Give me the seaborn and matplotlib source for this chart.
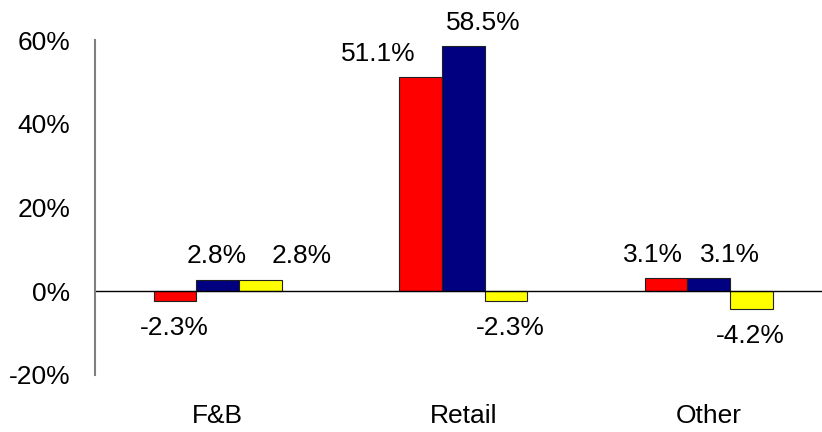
import numpy as np
import pandas as pd
import matplotlib
matplotlib.use("Agg")
import matplotlib.pyplot as plt
import seaborn as sns

# data (%)
segments = ["F&B", "Retail", "Other"]
series_names = ["Series 1", "Series 2", "Series 3"]
series_1 = [-2.3, 51.1, 3.1]
series_2 = [2.8, 58.5, 3.1]
series_3 = [2.8, -2.3, -4.2]
colors = ["#FF0000", "#000080", "#FFFF00"]

# small label nudges (pixels), per series then per segment, like the original
label_dx = [[-1, -42, -13], [-1, 20, 21], [41, 5, -1]]

df = pd.DataFrame({
    "segment": segments * 3,
    "series": np.repeat(series_names, 3),
    "value": series_1 + series_2 + series_3,
})

sns.set_style("white")
plt.rcParams["font.family"] = ["Liberation Sans", "DejaVu Sans"]
plt.rcParams["text.color"] = "black"
plt.rcParams["xtick.color"] = "black"
plt.rcParams["ytick.color"] = "black"

fig = plt.figure(figsize=(8.22, 4.32), dpi=100)
ax = fig.add_axes([95 / 822, 1 - 375 / 432, 736.5 / 822, 335 / 432])

sns.barplot(data=df, x="segment", y="value", hue="series", order=segments,
            hue_order=series_names, palette=colors, saturation=1, width=0.52,
            edgecolor="#202020", linewidth=0.8, legend=False, ax=ax)

ax.axhline(0, color="black", lw=1, zorder=1)
ax.set_xlim(-0.5, 2.5)
ax.set_ylim(-20, 60)
ax.set_yticks([-20, 0, 20, 40, 60])
ax.set_yticklabels([f"{t}%" for t in [-20, 0, 20, 40, 60]])
ax.set_xlabel("")
ax.set_ylabel("")
ax.tick_params(axis="both", length=0, labelsize=19, labelcolor="black")
ax.tick_params(axis="y", pad=18)
ax.tick_params(axis="x", pad=21)

for s in ["top", "right", "bottom"]:
    ax.spines[s].set_visible(False)
ax.spines["left"].set_color("#808080")
ax.spines["left"].set_linewidth(1.5)

for i, cont in enumerate(ax.containers):
    for j, bar in enumerate(cont):
        v = bar.get_height()
        x = bar.get_x() + bar.get_width() / 2
        if v >= 0:
            ax.annotate(f"{v:.1f}%", (x, v), xytext=(label_dx[i][j] * 0.72, 8),
                        textcoords="offset points", ha="center", va="bottom",
                        fontsize=19, color="black")
        else:
            ax.annotate(f"{v:.1f}%", (x, v), xytext=(label_dx[i][j] * 0.72, -11),
                        textcoords="offset points", ha="center", va="top",
                        fontsize=19, color="black")

fig.savefig("out.png", dpi=100)
